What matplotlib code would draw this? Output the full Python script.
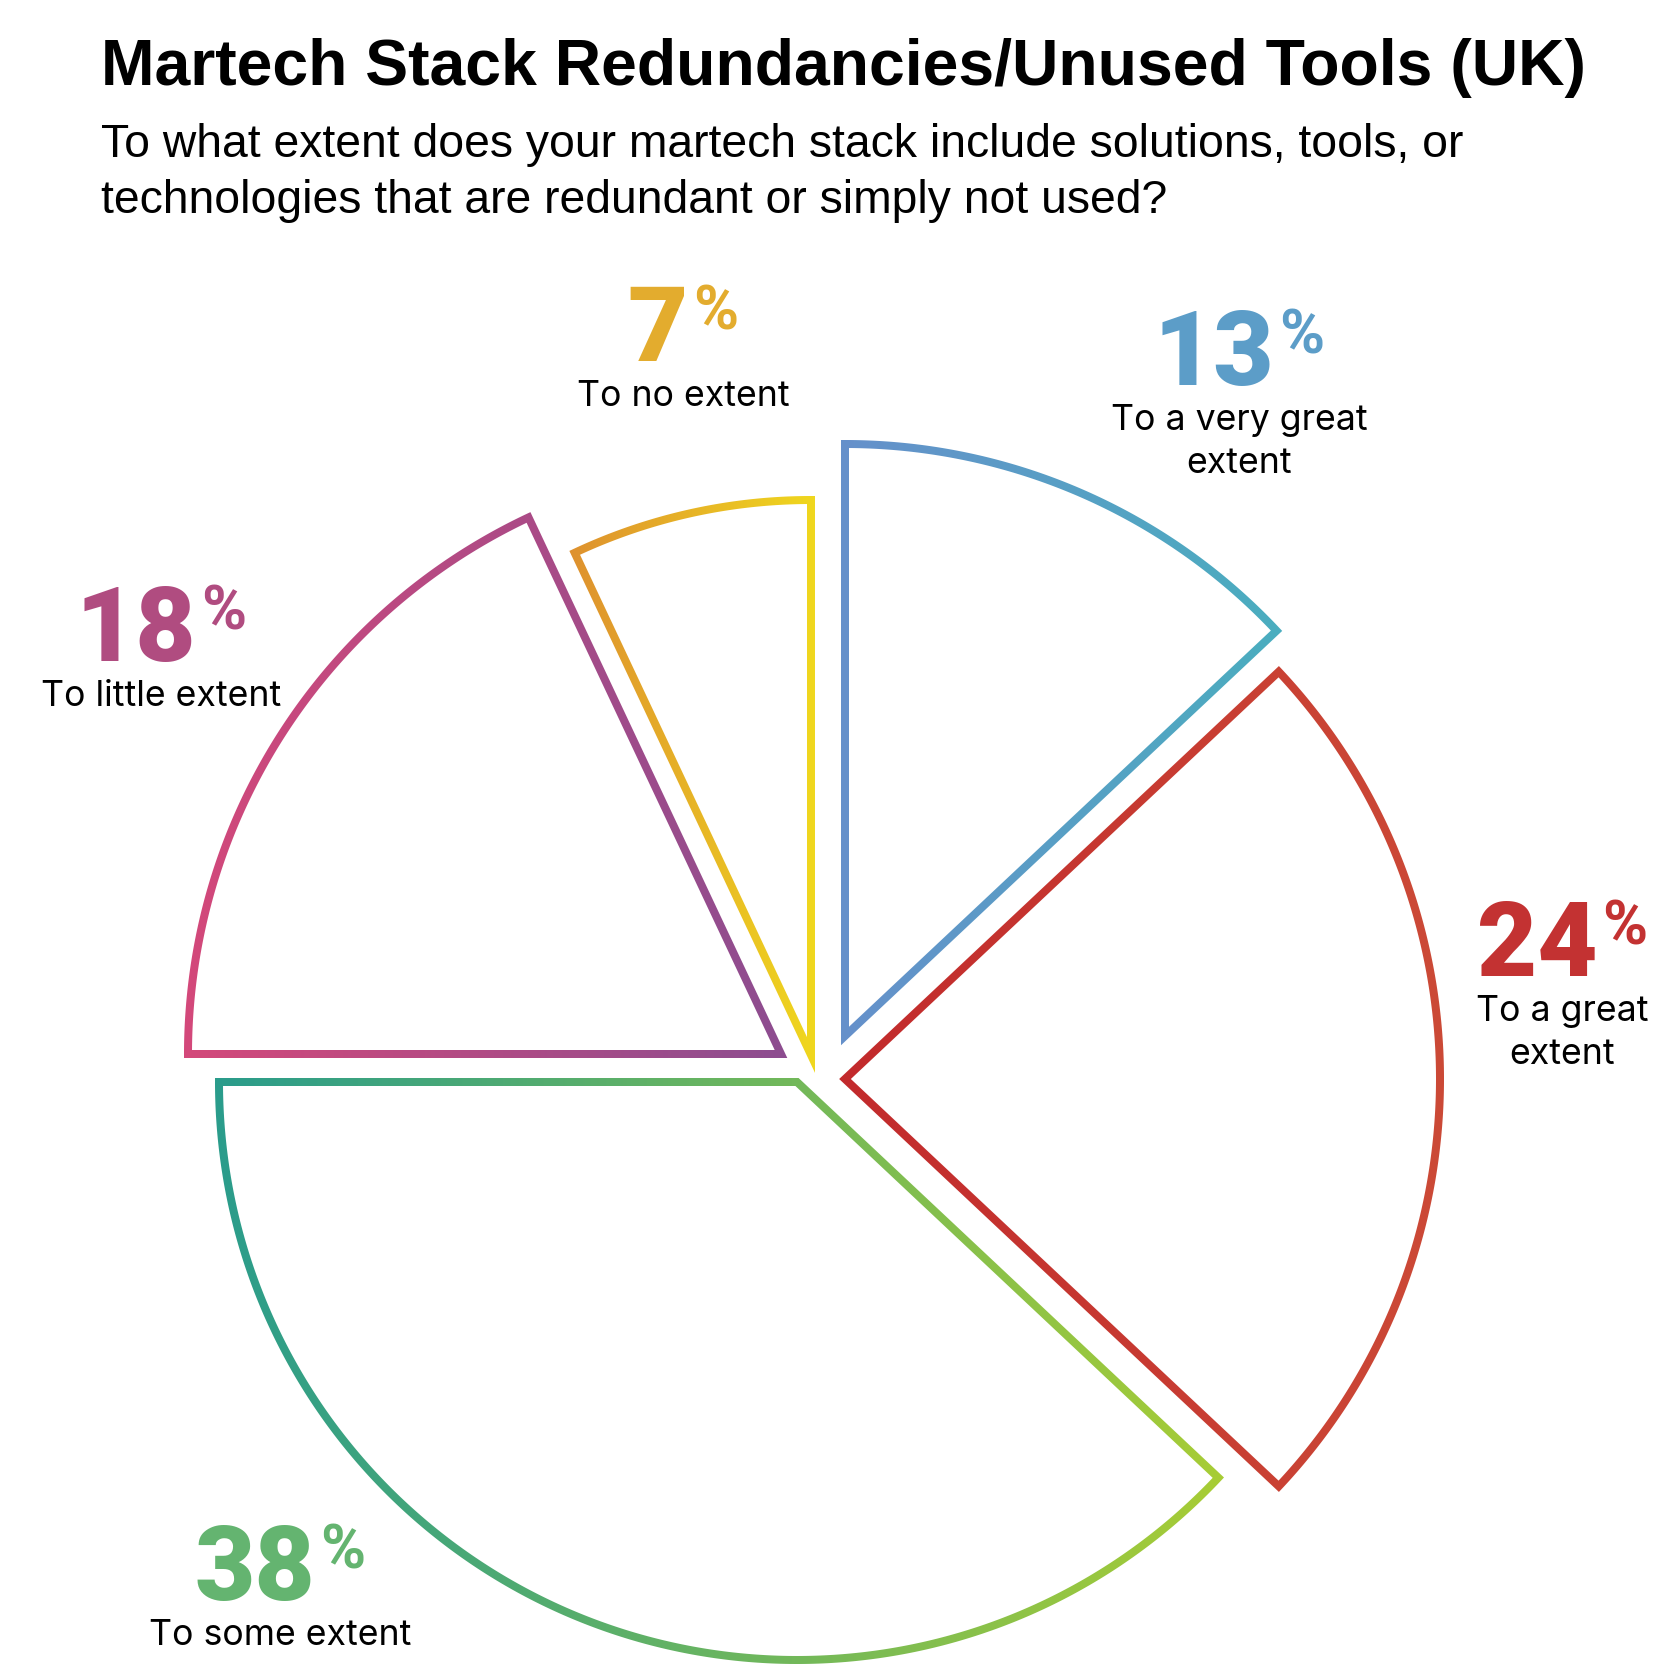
import numpy as np
import matplotlib.pyplot as plt
from matplotlib.path import Path
from matplotlib.patches import PathPatch
from matplotlib.colors import to_rgb

W = H = 1667

# data
categories = ["To a very great\nextent", "To a great\nextent", "To some extent",
              "To little extent", "To no extent"]
values = [13, 24, 38, 18, 7]

title = "Martech Stack Redundancies/Unused Tools (UK)"
subtitle_lines = ["To what extent does your martech stack include solutions, tools, or",
                  "technologies that are redundant or simply not used?"]

# style (pixel units, y measured from top for labels)
grad_left = ["#6690CB", "#C22A2C", "#2A9C8C", "#D4487A", "#DE902F"]
grad_right = ["#4AAEBF", "#CC4A37", "#A8CD35", "#8C4D90", "#F0D81E"]
num_colors = ["#5C9DC8", "#C33232", "#64B470", "#B04C80", "#E3AC2E"]
radii = [592, 595, 578, 593, 555]
shifts = [(27, 27), (27, -16), (-21, -19), (-37, 9), (-7, 8)]
center = (818, 604)
label_xy = [(1239, 385), (1562, 976), (280, 1600), (161, 661), (683, 361)]
lw = 8


def ring_path(apex, r, a_hi, a_lo, h):
    half = np.radians(a_hi - a_lo) / 2
    bis = np.radians((a_hi + a_lo) / 2)
    bvec = np.array([np.cos(bis), np.sin(bis)])

    def poly(hs):
        p0 = apex - hs / np.sin(half) * bvec
        R = r + hs
        d = np.degrees(np.arcsin(hs / R))
        t = np.radians(np.linspace(a_hi + d, a_lo - d, 300))
        arc = np.column_stack([apex[0] + R * np.cos(t), apex[1] + R * np.sin(t)])
        return np.vstack([p0, arc, p0])

    outer = poly(h)
    inner = poly(-h)[::-1]
    verts = np.vstack([outer, inner])
    codes = []
    for p in (outer, inner):
        codes += [Path.MOVETO] + [Path.LINETO] * (len(p) - 2) + [Path.CLOSEPOLY]
    return Path(verts, codes), outer


fig = plt.figure(figsize=(W / 100, H / 100), dpi=100)
ax = fig.add_axes([0, 0, 1, 1])
ax.set_axis_off()

start = 90.0
for i, v in enumerate(values):
    span = v / sum(values) * 360
    a_hi, a_lo = start, start - span
    start = a_lo
    apex = np.array([center[0] + shifts[i][0], center[1] + shifts[i][1]])
    path, outer = ring_path(apex, radii[i], a_hi, a_lo, lw / 2)
    patch = PathPatch(path, facecolor="none", edgecolor="none")
    ax.add_patch(patch)
    c0 = np.array(to_rgb(grad_left[i]))
    c1 = np.array(to_rgb(grad_right[i]))
    f = np.linspace(0, 1, 512)[:, None]
    row = c0 + (c1 - c0) * f
    img = np.stack([row, row])
    x0, x1 = outer[:, 0].min() - 2, outer[:, 0].max() + 2
    y0, y1 = outer[:, 1].min() - 2, outer[:, 1].max() + 2
    im = ax.imshow(img, extent=(x0, x1, y0, y1), origin="lower",
                   interpolation="bilinear", aspect="auto")
    im.set_clip_path(patch)

ax.set_xlim(0, W)
ax.set_ylim(0, H)

ax.text(101, H - 85, title, fontsize=46.4, fontweight="bold",
        family="Liberation Sans", va="baseline", ha="left")
for k, line in enumerate(subtitle_lines):
    ax.text(101, H - 157 - 56 * k, line, fontsize=33.3,
            family="Liberation Sans", va="baseline", ha="left")

renderer = fig.canvas.get_renderer()
for i, v in enumerate(values):
    x, yb = label_xy[i]
    num = ax.text(0, H - yb, str(v), fontsize=75, fontweight="black",
                  family="Roboto", color=num_colors[i], va="baseline", ha="left")
    pct = ax.text(0, H - yb + 78, "%", fontsize=44, fontweight="bold",
                  family="Roboto", color=num_colors[i], va="top", ha="left")
    wd = num.get_window_extent(renderer).width
    wp = pct.get_window_extent(renderer).width
    gap = 5
    left = x - (wd + gap + wp) / 2
    num.set_x(left)
    pct.set_x(left + wd + gap)
    for k, line in enumerate(categories[i].split("\n")):
        ax.text(x, H - (yb + 45 + 42.5 * k), line, fontsize=25.7,
                family="Inter", color="black", va="baseline", ha="center")

fig.savefig("out.png", dpi=100)
